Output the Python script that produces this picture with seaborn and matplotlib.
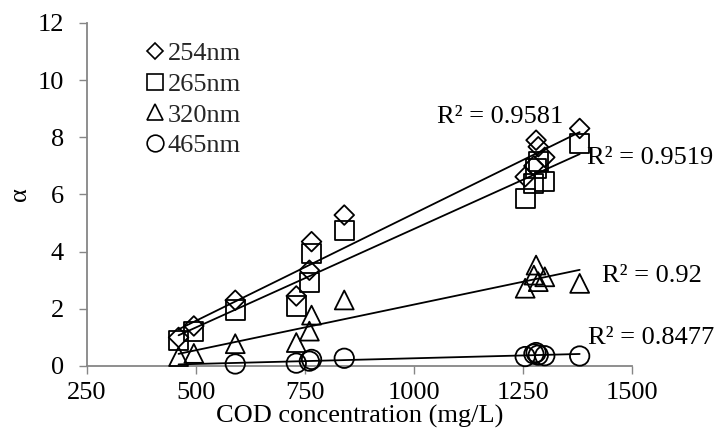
import numpy as np
import pandas as pd
import matplotlib
matplotlib.use("Agg")
import matplotlib.pyplot as plt
from matplotlib.lines import Line2D
import seaborn as sns

# COD concentration of each water sample (mg/L)
cod = [460, 495, 590, 730, 760, 765, 840, 1255, 1275, 1280, 1285, 1300, 1380]

# absorption coefficient alpha at each wavelength
alpha_254 = [1.00, 1.40, 2.30, 2.45, 3.35, 4.35, 5.28, 6.62, 7.00, 7.90, 7.67, 7.30, 8.31]
alpha_265 = [0.88, 1.22, 1.96, 2.10, 2.93, 3.94, 4.75, 5.86, 6.39, 6.90, 7.14, 6.44, 7.79]
alpha_320 = [0.33, 0.44, 0.78, 0.82, 1.22, 1.78, 2.31, 2.72, 3.18, 3.53, 2.95, 3.12, 2.89]
# the two lowest samples fall below the axis at 465 nm
alpha_465 = [np.nan, np.nan, 0.07, 0.10, 0.17, 0.23, 0.27, 0.33, 0.42, 0.47, 0.38, 0.36, 0.35]

series_names = ["254nm", "265nm", "320nm", "465nm"]
r2_labels = ["R\u00b2 = 0.9581", "R\u00b2 = 0.9519", "R\u00b2 = 0.92", "R\u00b2 = 0.8477"]

x_ticks = [250, 500, 750, 1000, 1250, 1500]
y_ticks = [0, 2, 4, 6, 8, 10, 12]

sns.set_theme(style="white")
plt.rcParams["font.family"] = ["Liberation Serif", "DejaVu Serif"]

FS = 19
GRAY = "#868686"

fig = plt.figure(figsize=(7.18, 4.32), dpi=100)
ax = fig.add_axes([0.1212, 0.1528, 0.7590, 0.7940])

markers = ["D", "s", "^", "o"]
sizes = [100, 190, 185, 195]
values = [alpha_254, alpha_265, alpha_320, alpha_465]
# label anchors (axes fraction): left edge, vertical centre
label_pos = [(0.642, 0.726), (0.917, 0.606), (0.945, 0.262), (0.919, 0.081)]

cod_arr = np.array(cod, dtype=float)
for name, vals, mk, sz, (lx, ly), lab in zip(series_names, values, markers, sizes,
                                             label_pos, r2_labels):
    df = pd.DataFrame({"COD": cod, "alpha": vals}).dropna()
    sns.scatterplot(data=df, x="COD", y="alpha", marker=mk, s=sz,
                    facecolor="none", edgecolor="black", linewidth=1.3,
                    ax=ax, legend=False, zorder=3, clip_on=False)
    # linear trend line across the sampled COD range
    k, b = np.polyfit(df["COD"], df["alpha"], 1)
    xs = np.array([cod_arr.min(), cod_arr.max()])
    trend = pd.DataFrame({"COD": xs, "alpha": k * xs + b})
    sns.lineplot(data=trend, x="COD", y="alpha", color="black", linewidth=1.3,
                 ax=ax, zorder=4)
    ax.text(lx, ly, lab, transform=ax.transAxes, fontsize=FS,
            ha="left", va="center", color="black")

ax.set_xlim(250, 1500)
ax.set_ylim(0, 12)
ax.set_xticks(x_ticks)
ax.set_yticks(y_ticks)
ax.set_xticklabels([str(t) for t in x_ticks])
ax.set_yticklabels([str(t) for t in y_ticks])

for side in ["top", "right"]:
    ax.spines[side].set_visible(False)
for side in ["left", "bottom"]:
    ax.spines[side].set_color(GRAY)
    ax.spines[side].set_linewidth(1.3)

ax.tick_params(axis="both", which="major", direction="out", length=5.5,
               width=1.0, color=GRAY, labelsize=FS, labelcolor="black")
ax.tick_params(axis="x", pad=6, bottom=True)
ax.tick_params(axis="y", pad=11, left=True)

ax.set_xlabel("COD concentration (mg/L)", fontsize=FS, color="black", labelpad=1)
ax.set_ylabel("\u03b1", fontsize=FS, color="black", labelpad=5)

handles = [
    Line2D([], [], linestyle="none", marker="D", markersize=8, mfc="none",
           mec="black", mew=1.2),
    Line2D([], [], linestyle="none", marker="s", markersize=12, mfc="none",
           mec="black", mew=1.2),
    Line2D([], [], linestyle="none", marker="^", markersize=12, mfc="none",
           mec="black", mew=1.2),
    Line2D([], [], linestyle="none", marker="o", markersize=12, mfc="none",
           mec="black", mew=1.2),
]
ax.legend(handles, series_names, loc="upper left", bbox_to_anchor=(0.105, 0.945),
          frameon=False, fontsize=FS, handlelength=0.8, handletextpad=0.1,
          labelspacing=0.27, borderaxespad=0, borderpad=0)

fig.savefig("out.png", dpi=100, facecolor="white")
